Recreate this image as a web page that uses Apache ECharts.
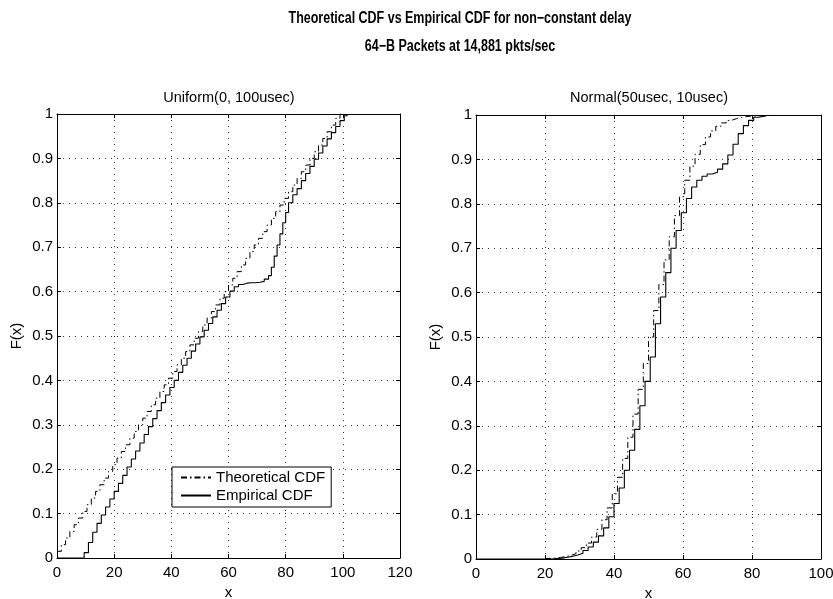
<!DOCTYPE html>
<html>
<head>
<meta charset="utf-8">
<script src="https://cdn.jsdelivr.net/npm/echarts@6/dist/echarts.min.js"></script>
<style>html,body{margin:0;padding:0;background:#fff;}#c{width:833px;height:599px;}</style>
</head>
<body>
<div id="c"></div>
<script>
// ---- Data ----
const mainTitle1 = 'Theoretical CDF vs Empirical CDF for non\u2212constant delay';
const mainTitle2 = '64\u2212B Packets at 14,881 pkts/sec';
const leftTitle = 'Uniform(0, 100usec)';
const rightTitle = 'Normal(50usec, 10usec)';
const seriesNames = ['Theoretical CDF', 'Empirical CDF'];

// Uniform(0,100) panel
const uniTheoX = [0,1.5,3,4.5,6,7.5,9,10.5,12,13.5,15,16.5,18,19.5,21,22.5,24,25.5,27,28.5,30,31.5,33,34.5,36,37.5,39,40.5,42,43.5,45,46.5,48,49.5,51,52.5,54,55.5,57,58.5,60,61.5,63,64.5,66,67.5,69,70.5,72,73.5,75,76.5,78,79.5,81,82.5,84,85.5,87,88.5,90,91.5,93,94.5,96,97.5,99,100.5];
const uniTheoF = [0.015,0.03,0.045,0.06,0.075,0.09,0.105,0.12,0.135,0.15,0.165,0.18,0.195,0.21,0.225,0.24,0.255,0.27,0.285,0.3,0.315,0.33,0.345,0.36,0.375,0.39,0.405,0.42,0.435,0.45,0.465,0.48,0.495,0.51,0.525,0.54,0.555,0.57,0.585,0.6,0.615,0.63,0.645,0.66,0.675,0.69,0.705,0.72,0.735,0.75,0.765,0.78,0.795,0.81,0.825,0.84,0.855,0.87,0.885,0.9,0.915,0.93,0.945,0.96,0.975,0.99,1,1];
const uniEmpX = [0,9.5,11,12.5,14,15.5,17,18.5,20,21.5,23,24.5,26,27.5,29,30.5,32,33.5,35,36.5,38,39.5,41,42.5,44,45.5,47,48.5,50,51.5,53,54.5,56,57.5,59,60.5,62,63.5,65,66.5,68,69.5,71,72.5,74,75,76,77,78,79,80,81,82.5,84,85.5,87,88.5,90,91.5,93,94.5,96,97.5,99,100.5,101.5];
const uniEmpF = [0,0.012,0.035,0.058,0.078,0.097,0.115,0.133,0.15,0.168,0.186,0.205,0.223,0.241,0.259,0.278,0.296,0.314,0.332,0.35,0.367,0.384,0.4,0.418,0.434,0.45,0.466,0.482,0.498,0.513,0.528,0.543,0.558,0.573,0.588,0.601,0.611,0.616,0.619,0.62,0.62,0.621,0.623,0.628,0.636,0.655,0.68,0.705,0.73,0.755,0.778,0.8,0.818,0.832,0.85,0.866,0.882,0.898,0.912,0.928,0.944,0.958,0.972,0.985,0.996,1];

// Normal(50,10) panel
const normTheoX = [20,21.5,23,24.5,26,27.5,29,30.5,32,33.5,35,36.5,38,39.5,41,42.5,44,45.5,47,48.5,50,51.5,53,54.5,56,57.5,59,60.5,62,63.5,65,66.5,68,69.5,71,72.5,74,75.5,77,78.5,80,83,86];
const normTheoF = [0.0013,0.0022,0.0035,0.0054,0.0082,0.0122,0.0179,0.0256,0.0359,0.0495,0.0668,0.0885,0.1151,0.1469,0.1841,0.2266,0.2743,0.3264,0.3821,0.4404,0.5,0.5596,0.6179,0.6736,0.7257,0.7734,0.8159,0.8531,0.8849,0.9115,0.9332,0.9505,0.9641,0.9744,0.9821,0.9878,0.9918,0.9946,0.9965,0.9978,0.9987,0.9995,1];
const normEmpX = [0,22,23.5,25,26.5,28,29.5,31,32.5,34,35.5,37,38.5,40,41.5,43,44.5,46,47.5,49,50.5,52,53.5,55,56.5,58,59.5,61,62.5,64,65.5,67,68.5,70,71.5,73,74.5,76,77.5,79,80.5,82,84];
const normEmpF = [0,0.001,0.002,0.004,0.006,0.009,0.013,0.019,0.027,0.038,0.052,0.07,0.095,0.125,0.16,0.2,0.245,0.292,0.345,0.4,0.455,0.53,0.59,0.645,0.7,0.74,0.78,0.812,0.838,0.853,0.862,0.867,0.871,0.878,0.89,0.91,0.934,0.958,0.976,0.988,0.995,0.998,1];

// ---- Chart ----
const FONT = "'Liberation Sans', Arial, Helvetica, sans-serif";
const zip = (xs, ys) => xs.map((x, i) => [x, ys[i]]);
const chart = echarts.init(document.getElementById('c'), null, {renderer: 'canvas'});

function xAxisCfg(gi, max) {
  return {
    type: 'value', gridIndex: gi, min: 0, max: max, interval: 20,
    name: 'x', nameLocation: 'middle', nameGap: 25,
    nameTextStyle: {color: '#000', fontSize: 15, fontFamily: FONT},
    axisLine: {show: true, onZero: false, lineStyle: {color: '#000', width: 1}},
    axisTick: {show: true, inside: true, length: 4, lineStyle: {color: '#000'}},
    axisLabel: {color: '#000', fontSize: 15, fontFamily: FONT, margin: 7},
    splitLine: {show: true, lineStyle: {color: '#333', type: [1, 5], width: 1}}
  };
}
function xTopCfg(gi, max) {
  return {
    type: 'value', gridIndex: gi, min: 0, max: max, interval: 20, position: 'top',
    axisLine: {show: true, onZero: false, lineStyle: {color: '#000', width: 1}},
    axisTick: {show: true, inside: true, length: 4, lineStyle: {color: '#000'}},
    axisLabel: {show: false}, splitLine: {show: false}
  };
}
function yAxisCfg(gi) {
  return {
    type: 'value', gridIndex: gi, min: 0, max: 1, interval: 0.1,
    name: 'F(x)', nameLocation: 'middle', nameGap: 33,
    nameTextStyle: {color: '#000', fontSize: 15, fontFamily: FONT},
    axisLine: {show: true, onZero: false, lineStyle: {color: '#000', width: 1}},
    axisTick: {show: true, inside: true, length: 4, lineStyle: {color: '#000'}},
    axisLabel: {color: '#000', fontSize: 15, fontFamily: FONT, margin: 4,
      formatter: v => String(Math.round(v * 10) / 10)},
    splitLine: {show: true, lineStyle: {color: '#333', type: [1, 5], width: 1}}
  };
}
function yRightCfg(gi) {
  return {
    type: 'value', gridIndex: gi, min: 0, max: 1, interval: 0.1, position: 'right',
    axisLine: {show: true, onZero: false, lineStyle: {color: '#000', width: 1}},
    axisTick: {show: true, inside: true, length: 4, lineStyle: {color: '#000'}},
    axisLabel: {show: false}, splitLine: {show: false}
  };
}
const theoStyle = {color: '#000', width: 1, type: [6, 3, 1.5, 3]};
const empStyle = {color: '#000', width: 1.1, type: 'solid'};

function lineSeries(name, gi, data, style) {
  return {
    name: name, type: 'line', step: 'end', xAxisIndex: gi, yAxisIndex: gi,
    data: data, symbol: 'none', showSymbol: false, lineStyle: style, itemStyle: {color: '#000'},
    silent: true, animation: false, clip: true
  };
}

const option = {
  backgroundColor: '#fff',
  animation: false,
  textStyle: {fontFamily: FONT},
  graphic: [
    {type: 'text', x: 460, y: 19, scaleX: 0.78, style: {text: mainTitle1, textAlign: 'center', textVerticalAlign: 'middle', font: 'bold 16px ' + FONT, fill: '#000'}},
    {type: 'text', x: 460, y: 47, scaleX: 0.78, style: {text: mainTitle2, textAlign: 'center', textVerticalAlign: 'middle', font: 'bold 16px ' + FONT, fill: '#000'}},
    {type: 'text', x: 229, y: 98, style: {text: leftTitle, textAlign: 'center', textVerticalAlign: 'middle', font: '14.5px ' + FONT, fill: '#000'}},
    {type: 'text', x: 649, y: 98, style: {text: rightTitle, textAlign: 'center', textVerticalAlign: 'middle', font: '14.5px ' + FONT, fill: '#000'}}
  ],
  legend: {
    data: seriesNames,
    left: 172, top: 467, orient: 'vertical',
    backgroundColor: '#fff', borderColor: '#000', borderWidth: 1,
    padding: [3, 6, 4, 8], itemGap: 3, itemWidth: 30, itemHeight: 14,
    itemStyle: {opacity: 0, borderWidth: 0},
    textStyle: {color: '#000', fontSize: 15, fontFamily: FONT},
    selectedMode: false
  },
  grid: [
    {left: 57, top: 114, width: 343, height: 444, outerBoundsMode: 'none', containLabel: false},
    {left: 476, top: 115, width: 345, height: 444, outerBoundsMode: 'none', containLabel: false}
  ],
  xAxis: [xAxisCfg(0, 120), xAxisCfg(1, 100), xTopCfg(0, 120), xTopCfg(1, 100)],
  yAxis: [yAxisCfg(0), yAxisCfg(1), yRightCfg(0), yRightCfg(1)],
  series: [
    lineSeries(seriesNames[0], 0, zip(uniTheoX, uniTheoF), theoStyle),
    lineSeries(seriesNames[1], 0, zip(uniEmpX, uniEmpF), empStyle),
    lineSeries(seriesNames[0], 1, zip(normTheoX, normTheoF), theoStyle),
    lineSeries(seriesNames[1], 1, zip(normEmpX, normEmpF), empStyle)
  ]
};
chart.setOption(option);
</script>
</body>
</html>
